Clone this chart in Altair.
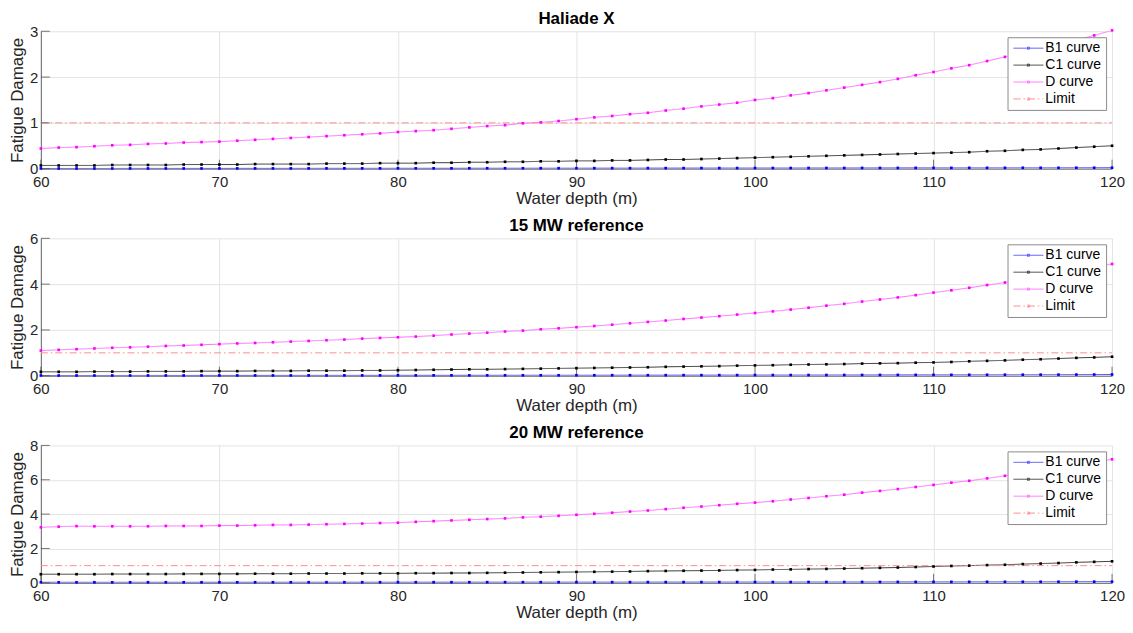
import altair as alt
import pandas as pd

# ---------------- data ----------------
depth = list(range(60, 121))
x_ticks = [60, 70, 80, 90, 100, 110, 120]

hal_b1 = [0.004, 0.004, 0.004, 0.004, 0.004, 0.005, 0.005, 0.005, 0.005, 0.005,
          0.005, 0.006, 0.006, 0.006, 0.006, 0.006, 0.007, 0.007, 0.007, 0.007,
          0.008, 0.008, 0.008, 0.008, 0.009, 0.009, 0.009, 0.009, 0.010, 0.010,
          0.010, 0.011, 0.011, 0.011, 0.012, 0.012, 0.012, 0.013, 0.013, 0.013,
          0.014, 0.014, 0.014, 0.015, 0.015, 0.015, 0.016, 0.016, 0.016, 0.017,
          0.017, 0.017, 0.018, 0.018, 0.018, 0.019, 0.019, 0.019, 0.020, 0.020,
          0.021]
hal_c1 = [0.07, 0.07, 0.07, 0.07, 0.08, 0.08, 0.08, 0.08, 0.09, 0.09,
          0.09, 0.09, 0.10, 0.10, 0.10, 0.10, 0.11, 0.11, 0.11, 0.12,
          0.12, 0.12, 0.13, 0.13, 0.14, 0.14, 0.15, 0.15, 0.16, 0.16,
          0.17, 0.17, 0.18, 0.18, 0.19, 0.20, 0.20, 0.21, 0.22, 0.23,
          0.24, 0.25, 0.26, 0.27, 0.28, 0.29, 0.30, 0.31, 0.32, 0.33,
          0.34, 0.35, 0.36, 0.38, 0.39, 0.41, 0.42, 0.44, 0.46, 0.48,
          0.50]
hal_d = [0.44, 0.46, 0.47, 0.49, 0.51, 0.52, 0.54, 0.55, 0.57, 0.58,
         0.59, 0.61, 0.63, 0.65, 0.67, 0.69, 0.71, 0.73, 0.75, 0.77,
         0.80, 0.82, 0.84, 0.87, 0.90, 0.93, 0.95, 0.99, 1.01, 1.04,
         1.08, 1.12, 1.15, 1.19, 1.22, 1.27, 1.31, 1.36, 1.40, 1.44,
         1.50, 1.54, 1.60, 1.65, 1.71, 1.77, 1.83, 1.89, 1.96, 2.04,
         2.11, 2.19, 2.26, 2.35, 2.44, 2.53, 2.62, 2.71, 2.81, 2.91,
         3.02]

mw15_b1 = [0.010, 0.010, 0.010, 0.011, 0.011, 0.011, 0.012, 0.012, 0.012, 0.013,
           0.013, 0.013, 0.014, 0.014, 0.014, 0.015, 0.015, 0.016, 0.016, 0.016,
           0.017, 0.017, 0.018, 0.018, 0.019, 0.019, 0.020, 0.020, 0.021, 0.021,
           0.022, 0.022, 0.023, 0.024, 0.024, 0.025, 0.026, 0.026, 0.027, 0.028,
           0.029, 0.030, 0.030, 0.031, 0.032, 0.033, 0.034, 0.035, 0.036, 0.037,
           0.038, 0.040, 0.041, 0.042, 0.044, 0.045, 0.047, 0.048, 0.050, 0.052,
           0.054]
mw15_c1 = [0.17, 0.17, 0.17, 0.18, 0.18, 0.18, 0.19, 0.19, 0.19, 0.20,
           0.20, 0.20, 0.21, 0.21, 0.21, 0.22, 0.22, 0.22, 0.23, 0.23,
           0.24, 0.25, 0.26, 0.27, 0.28, 0.28, 0.29, 0.30, 0.31, 0.32,
           0.33, 0.34, 0.35, 0.36, 0.37, 0.39, 0.40, 0.41, 0.42, 0.44,
           0.45, 0.46, 0.48, 0.49, 0.50, 0.51, 0.53, 0.54, 0.55, 0.57,
           0.58, 0.60, 0.63, 0.65, 0.67, 0.70, 0.72, 0.75, 0.78, 0.80,
           0.83]
mw15_d = [1.10, 1.13, 1.16, 1.19, 1.22, 1.24, 1.27, 1.30, 1.32, 1.35,
          1.38, 1.41, 1.43, 1.46, 1.49, 1.52, 1.55, 1.58, 1.62, 1.65,
          1.68, 1.71, 1.75, 1.80, 1.84, 1.88, 1.93, 1.97, 2.03, 2.07,
          2.12, 2.17, 2.23, 2.29, 2.35, 2.41, 2.48, 2.54, 2.60, 2.67,
          2.74, 2.81, 2.89, 2.97, 3.06, 3.14, 3.24, 3.33, 3.42, 3.52,
          3.63, 3.73, 3.84, 3.96, 4.07, 4.19, 4.32, 4.46, 4.60, 4.74,
          4.88]

mw20_b1 = [0.030, 0.030, 0.030, 0.030, 0.030, 0.031, 0.031, 0.031, 0.031, 0.031,
           0.032, 0.032, 0.032, 0.032, 0.033, 0.033, 0.033, 0.033, 0.034, 0.034,
           0.034, 0.035, 0.035, 0.035, 0.036, 0.036, 0.036, 0.037, 0.037, 0.038,
           0.038, 0.039, 0.039, 0.040, 0.040, 0.041, 0.041, 0.042, 0.043, 0.043,
           0.044, 0.045, 0.045, 0.046, 0.047, 0.048, 0.049, 0.050, 0.051, 0.052,
           0.053, 0.054, 0.055, 0.057, 0.058, 0.059, 0.061, 0.062, 0.064, 0.065,
           0.067]
mw20_c1 = [0.50, 0.50, 0.50, 0.50, 0.51, 0.51, 0.51, 0.51, 0.52, 0.52,
           0.52, 0.52, 0.53, 0.53, 0.53, 0.54, 0.54, 0.54, 0.55, 0.55,
           0.55, 0.56, 0.56, 0.57, 0.57, 0.58, 0.59, 0.60, 0.61, 0.62,
           0.63, 0.64, 0.65, 0.66, 0.68, 0.69, 0.70, 0.71, 0.72, 0.74,
           0.75, 0.77, 0.78, 0.80, 0.81, 0.83, 0.85, 0.87, 0.89, 0.92,
           0.95, 0.98, 1.00, 1.03, 1.05, 1.09, 1.12, 1.15, 1.19, 1.22,
           1.25]
mw20_d = [3.23, 3.27, 3.30, 3.29, 3.29, 3.29, 3.29, 3.31, 3.31, 3.31,
          3.33, 3.33, 3.35, 3.37, 3.37, 3.39, 3.41, 3.43, 3.45, 3.48,
          3.50, 3.55, 3.59, 3.63, 3.67, 3.71, 3.75, 3.81, 3.85, 3.90,
          3.96, 4.02, 4.08, 4.15, 4.21, 4.29, 4.37, 4.44, 4.52, 4.60,
          4.67, 4.75, 4.85, 4.94, 5.04, 5.13, 5.25, 5.35, 5.46, 5.58,
          5.70, 5.83, 5.94, 6.08, 6.23, 6.39, 6.55, 6.71, 6.87, 7.03,
          7.19]

limit_depth = [60, 120]
limit_value = [1.0, 1.0]

panel_titles = ["Haliade X", "15 MW reference", "20 MW reference"]
panel_ymax = [3, 6, 8]
panel_yticks = [[0, 1, 2, 3], [0, 2, 4, 6], [0, 2, 4, 6, 8]]
panel_series = [(hal_b1, hal_c1, hal_d), (mw15_b1, mw15_c1, mw15_d), (mw20_b1, mw20_c1, mw20_d)]

series_names = ["B1 curve", "C1 curve", "D curve", "Limit"]

# ---------------- styles ----------------
line_colors = ["#4d4dff", "#3a3a3a", "#ff70ff", "#ff8c8c"]
dot_colors = ["#0000ff", "#000000", "#ff00ff"]
dash_styles = [[1, 0], [1, 0], [1, 0], [7, 3, 1.5, 3]]
FONT = "Liberation Sans"
W, H = 1076, 138
TICK_LEN = 9
legend_symbol = "M-3,0H3M-0.2,-0.2H0.2V0.2H-0.2Z"


def make_panel(title, b1, c1, d, ymax, yticks):
    rows = []
    for name, vals in zip(series_names[:3], (b1, c1, d)):
        rows += [{"depth": x, "value": v, "series": name} for x, v in zip(depth, vals)]
    curves = pd.DataFrame(rows)
    lim = pd.DataFrame({"depth": limit_depth, "value": limit_value, "series": "Limit"})
    lines_df = pd.concat([curves, lim], ignore_index=True)

    x_enc = alt.X("depth:Q",
                  scale=alt.Scale(domain=[60, 120], nice=False, zero=False),
                  axis=alt.Axis(values=x_ticks, title="Water depth (m)", format="d",
                                labelFlush=False, labelOverlap=False))
    y_enc = alt.Y("value:Q",
                  scale=alt.Scale(domain=[0, ymax], nice=False),
                  axis=alt.Axis(values=yticks, title="Fatigue Damage", format="d",
                                labelOverlap=False))

    legend = alt.Legend(
        title=None, orient="top-right", offset=6, padding=4,
        strokeColor="#8a8a8a", fillColor="white",
        labelFont=FONT, labelFontSize=14, labelColor="#000000",
        symbolType=legend_symbol, symbolSize=100, symbolStrokeWidth=1,
        symbolOffset=10, labelOffset=10, rowPadding=3,
    )

    lines = alt.Chart(lines_df).mark_line(strokeWidth=1, clip=True).encode(
        x=x_enc, y=y_enc,
        color=alt.Color("series:N", scale=alt.Scale(domain=series_names, range=line_colors), legend=legend),
        strokeDash=alt.StrokeDash("series:N", scale=alt.Scale(domain=series_names, range=dash_styles), legend=legend),
    )
    dots = alt.Chart(curves).mark_square(size=7, strokeWidth=0, opacity=1).encode(
        x=x_enc, y=y_enc,
        fill=alt.Fill("series:N", scale=alt.Scale(domain=series_names[:3], range=dot_colors), legend=None),
    )
    xt = alt.Chart(pd.DataFrame({"depth": x_ticks})).mark_rule(color="#555555", strokeWidth=0.8).encode(
        x=x_enc, y=alt.value(H), y2=alt.value(H - TICK_LEN))
    yt = alt.Chart(pd.DataFrame({"value": yticks})).mark_rule(color="#555555", strokeWidth=0.8).encode(
        y=y_enc, x=alt.value(0), x2=alt.value(TICK_LEN))

    return alt.layer(lines, xt, yt, dots).properties(
        width=W, height=H, title=alt.TitleParams(title))


panels = [make_panel(t, s[0], s[1], s[2], m, yt)
          for t, s, m, yt in zip(panel_titles, panel_series, panel_ymax, panel_yticks)]

chart = alt.vconcat(*panels, spacing=10).resolve_scale(
    color="independent", strokeDash="independent", fill="independent",
    x="independent", y="independent",
).resolve_legend(color="independent", strokeDash="independent").properties(
    padding={"left": 0, "top": 0, "right": 0, "bottom": 0}
).configure_view(stroke=None).configure_axis(
    labelFont=FONT, labelFontSize=15, labelColor="#262626",
    titleFont=FONT, titleFontSize=17, titleFontWeight="normal", titleColor="#262626",
    gridColor="#e4e4e4", gridWidth=1, domainColor="#666666", domainWidth=1,
    ticks=False, tickSize=0, labelOverlap=False,
).configure_axisX(labelPadding=6, titlePadding=1).configure_axisY(
    labelPadding=3, titlePadding=3
).configure_title(
    font=FONT, fontSize=17, fontWeight="bold", color="#000000", offset=-3.5, anchor="middle"
)

chart.save("out.html", embed_options={"renderer": "svg", "actions": False})
